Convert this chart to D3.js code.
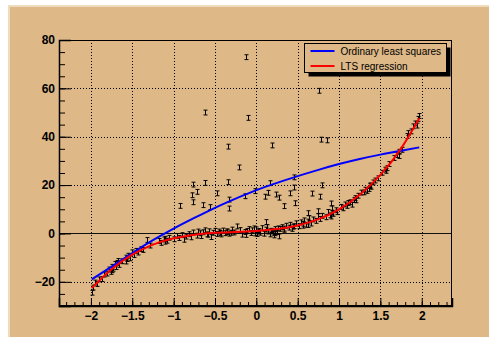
<!DOCTYPE html>
<html>
<head>
<meta charset="utf-8">
<script src="https://cdn.jsdelivr.net/npm/d3@7"></script>
<style>
  body { margin: 0; background: #fff; }
  svg { display: block; font-family: "Liberation Sans", Arial, Helvetica, sans-serif; }
</style>
</head>
<body>
<div id="chart"></div>
<script>
// Points following the true curve
const goodPoints = [
  [-1.99,-24.5],[-1.98,-22.4],[-1.95,-20.3],[-1.93,-20.9],[-1.90,-19.0],[-1.87,-18.9],[-1.84,-17.0],
  [-1.80,-16.6],[-1.78,-14.9],[-1.76,-15.9],[-1.75,-13.8],[-1.74,-15.2],[-1.73,-14.6],[-1.71,-12.6],
  [-1.70,-13.9],[-1.68,-12.2],[-1.67,-11.4],[-1.66,-13.0],[-1.62,-11.5],[-1.58,-10.0],[-1.57,-11.6],
  [-1.56,-10.6],[-1.55,-9.2],[-1.53,-10.3],[-1.50,-7.8],[-1.48,-8.9],
  [-1.46,-7.2],[-1.43,-7.9],[-1.40,-6.5],[-1.37,-6.8],[-1.32,-2.7],[-1.28,-5.0],[-1.18,-3.1],
  [-1.15,-3.9],[-1.12,-2.5],[-1.11,-3.4],[-1.10,-2.2],[-1.08,-3.0],[-1.06,-1.8],[-1.00,-2.4],[-0.96,-1.0],
  [-0.93,-1.9],[-0.90,-0.7],[-0.87,-2.6],[-0.85,-1.3],[-0.82,-0.3],[-0.79,-1.6],[-0.76,0.4],
  [-0.72,-0.9],[-0.70,0.8],[-0.68,0.1],[-0.67,-1.1],[-0.64,0.5],[-0.62,1.3],[-0.60,-0.4],[-0.58,-0.5],
  [-0.57,0.9],[-0.55,-1.5],[-0.52,0.3],[-0.50,1.1],[-0.48,-0.2],
  [-0.45,0.8],[-0.44,0.2],[-0.43,-0.4],[-0.40,1.2],[-0.38,0.1],[-0.36,0.9],[-0.35,0.5],[-0.33,-0.1],
  [-0.31,0.3],[-0.30,1.6],[-0.27,0.4],[-0.23,2.9],[-0.20,1.4],[-0.17,-0.5],[-0.14,0.6],[-0.12,-0.6],
  [-0.11,1.0],[-0.09,1.8],[-0.07,0.2],[-0.05,1.3],[-0.03,2.1],[-0.02,0.0],[0.00,1.7],[0.01,-0.2],
  [0.02,0.8],[0.03,1.0],[0.05,0.3],[0.07,2.2],[0.09,-0.1],[0.12,1.6],[0.13,2.6],[0.14,0.8],[0.16,-0.4],
  [0.18,1.1],[0.19,0.9],[0.20,0.3],[0.21,-0.8],[0.22,0.1],[0.23,1.8],[0.25,0.6],[0.26,2.1],[0.27,-1.2],
  [0.29,1.9],[0.31,2.6],[0.33,1.5],[0.34,2.0],[0.36,3.2],[0.39,2.4],[0.41,3.6],[0.43,1.9],[0.44,2.8],
  [0.46,3.0],[0.48,4.2],
  [0.52,3.0],[0.54,4.6],[0.56,3.2],[0.57,4.0],[0.58,5.4],[0.60,3.6],[0.62,4.9],[0.63,3.5],[0.64,6.3],
  [0.66,4.1],[0.69,5.8],[0.72,5.2],[0.74,7.2],[0.77,6.0],[0.80,7.3],[0.84,6.7],[0.87,8.9],[0.89,7.5],
  [0.90,7.0],[0.91,10.4],[0.92,8.6],[0.93,8.1],[0.96,9.6],[0.98,8.8],
  [1.02,11.0],[1.05,10.4],[1.07,12.0],[1.10,11.4],[1.11,12.6],[1.13,12.9],[1.16,11.9],[1.18,13.8],
  [1.19,14.6],[1.21,13.7],[1.23,15.6],[1.27,16.9],[1.30,17.0],[1.32,18.1],[1.34,17.6],[1.36,18.4],
  [1.37,19.9],[1.38,19.6],[1.39,19.3],[1.41,21.1],[1.44,21.9],[1.47,22.8],
  [1.52,25.1],[1.56,26.4],[1.57,25.9],[1.58,27.0],[1.60,28.7],[1.66,31.2],[1.70,32.4],[1.72,33.8],
  [1.73,32.0],[1.76,34.6],[1.82,40.3],[1.84,41.5],[1.87,42.2],[1.90,44.3],[1.92,45.5],[1.94,44.6],
  [1.96,47.4],[1.97,48.6]
];

// Spoiled points (large positive errors)
const outlierPoints = [
  [-0.13,72.9],[0.76,59.0],[-0.62,50.0],[-0.10,47.8],[0.78,38.8],[0.85,38.5],[-0.34,35.9],[0.19,36.4],
  [-0.21,27.3],[0.455,23.2],[-0.76,20.2],[-0.62,20.9],[-0.34,21.2],[0.165,20.8],[0.455,19.0],[0.79,19.9],
  [-0.78,15.8],[-0.72,17.2],[-0.47,16.6],[-0.02,17.5],[0.10,15.2],[0.14,16.8],[0.24,16.1],[0.28,14.8],
  [0.41,16.6],[0.67,16.5],[0.77,15.2],[-0.77,12.9],[-0.92,11.4],[-0.64,11.7],[-0.56,10.9],[-0.325,14.0],
  [-0.14,15.4],[0.33,11.3],[0.47,12.5],[0.90,12.4],[-0.33,10.3],[0.625,8.4],[0.74,9.2],[0.12,4.7]
];
const yError = 1;

// Fitted curves
const fitX = [-1.99,-1.75,-1.5,-1.25,-1.0,-0.75,-0.5,-0.25,0,0.25,0.5,0.75,1.0,1.25,1.5,1.75,1.97];
const olsY = [-19.0,-13.7,-8.1,-2.8,2.0,6.4,10.6,14.4,17.9,20.9,23.7,26.3,28.7,30.8,32.6,34.2,35.6];
const ltsY = [-22.6,-14.8,-8.8,-4.6,-2.0,-0.5,0.3,0.6,1.0,1.8,3.3,5.9,10.0,16.0,24.2,35.1,47.6];

const xTicks = [-2, -1.5, -1, -0.5, 0, 0.5, 1, 1.5, 2];
const yTicks = [-20, 0, 20, 40, 60, 80];
const legendLabels = ["Ordinary least squares", "LTS regression"];
const legendColors = ["#0000ff", "#ff0000"];

const W = 489, H = 337;
const frame = {left: 59, right: 452, top: 40, bottom: 306};
const bg = "#deb887";

const svg = d3.select("#chart").append("svg")
  .attr("width", W).attr("height", H);

// canvas with light bevel
svg.append("rect").attr("x", 8).attr("y", 5).attr("width", W).attr("height", H).attr("fill", bg);
svg.append("rect").attr("x", 8).attr("y", 5).attr("width", W).attr("height", 2).attr("fill", "#eedcbf");
svg.append("rect").attr("x", 8).attr("y", 5).attr("width", 2).attr("height", H).attr("fill", "#eedcbf");

const allPoints = goodPoints.concat(outlierPoints);
const [xmin, xmax] = d3.extent(allPoints, d => d[0]);
const dx = xmax - xmin;

const x = d3.scaleLinear()
  .domain([xmin - 0.1 * dx, xmax + 0.1 * dx])
  .range([frame.left, frame.right]);
const y = d3.scaleLinear()
  .domain([-30, 80])
  .range([frame.bottom, frame.top]);

const pw = frame.right - frame.left, ph = frame.bottom - frame.top;

// grid
const grid = svg.append("g").attr("stroke", "#000").attr("stroke-width", 1).attr("stroke-dasharray", "1,2");
grid.selectAll(".gx").data(xTicks).enter().append("line")
  .attr("x1", d => Math.round(x(d)) + 0.5).attr("x2", d => Math.round(x(d)) + 0.5)
  .attr("y1", frame.top).attr("y2", frame.bottom);
grid.selectAll(".gy").data(yTicks.filter(d => d !== 0)).enter().append("line")
  .attr("y1", d => Math.round(y(d)) + 0.5).attr("y2", d => Math.round(y(d)) + 0.5)
  .attr("x1", frame.left).attr("x2", frame.right);
svg.append("line")
  .attr("x1", frame.left).attr("x2", frame.right)
  .attr("y1", Math.round(y(0)) + 0.5).attr("y2", Math.round(y(0)) + 0.5)
  .attr("stroke", "#111").attr("stroke-width", 1);

// frame
svg.append("rect")
  .attr("x", frame.left + 0.5).attr("y", frame.top + 0.5)
  .attr("width", pw - 1).attr("height", ph - 1)
  .attr("fill", "none").attr("stroke", "#000").attr("stroke-width", 1);

// axes (ticks inside the frame, like ROOT)
const xMinor = d3.range(-2.3, 2.4, 0.1).map(v => Math.round(v * 10) / 10)
  .filter(v => v >= x.domain()[0] && v <= x.domain()[1]);
const yMinor = d3.range(-30, 81, 5);

svg.append("g")
  .attr("transform", `translate(0,${frame.bottom})`)
  .call(d3.axisBottom(x).tickValues(xMinor).tickSize(-4).tickFormat(""))
  .call(g => g.select(".domain").remove());
svg.append("g")
  .attr("transform", `translate(0,${frame.bottom})`)
  .call(d3.axisBottom(x).tickValues(xTicks).tickSize(-8).tickPadding(5).tickFormat(d3.format("")))
  .call(g => g.select(".domain").attr("stroke-width", 1.5))
  .call(g => g.selectAll("text").attr("font-size", 12).attr("font-weight", "bold").attr("fill", "#000"));

svg.append("g")
  .attr("transform", `translate(${frame.left},0)`)
  .call(d3.axisLeft(y).tickValues(yMinor).tickSize(-6).tickFormat(""))
  .call(g => g.select(".domain").remove());
svg.append("g")
  .attr("transform", `translate(${frame.left},0)`)
  .call(d3.axisLeft(y).tickValues(yTicks).tickSize(-12).tickPadding(4))
  .call(g => g.select(".domain").attr("stroke-width", 1.5))
  .call(g => g.selectAll("text").attr("font-size", 12).attr("font-weight", "bold").attr("fill", "#000"));

// error bars
const bars = svg.append("g").attr("stroke", "#000").attr("stroke-width", 1).attr("fill", "none");
bars.selectAll("path").data(allPoints).enter().append("path")
  .attr("d", d => {
    const cx = Math.round(x(d[0])) + 0.5;
    const y1 = y(d[1] + yError), y2 = y(d[1] - yError);
    return `M${cx},${y1}V${y2}M${cx - 2},${y1}H${cx + 2}M${cx - 2},${y2}H${cx + 2}`;
  });

// fitted functions
const line = d3.line().x(d => x(d[0])).y(d => y(d[1])).curve(d3.curveNatural);
svg.append("path").datum(d3.zip(fitX, olsY)).attr("d", line)
  .attr("fill", "none").attr("stroke", legendColors[0]).attr("stroke-width", 2);
svg.append("path").datum(d3.zip(fitX, ltsY)).attr("d", line)
  .attr("fill", "none").attr("stroke", legendColors[1]).attr("stroke-width", 2);

// legend
const lg = {x: 304.5, y: 43.5, w: 142, h: 29};
svg.append("rect").attr("x", lg.x + 4).attr("y", lg.y + 4).attr("width", lg.w).attr("height", lg.h).attr("fill", "#000");
svg.append("rect").attr("x", lg.x).attr("y", lg.y).attr("width", lg.w).attr("height", lg.h)
  .attr("fill", bg).attr("stroke", "#000").attr("stroke-width", 1);
legendLabels.forEach((label, i) => {
  const ly = lg.y + 7.5 + i * 15;
  svg.append("line").attr("x1", lg.x + 6).attr("x2", lg.x + 30).attr("y1", ly).attr("y2", ly)
    .attr("stroke", legendColors[i]).attr("stroke-width", 2);
  svg.append("text").attr("x", lg.x + 36).attr("y", ly + 3.5)
    .attr("font-size", 10).attr("fill", "#000").text(label);
});
</script>
</body>
</html>
